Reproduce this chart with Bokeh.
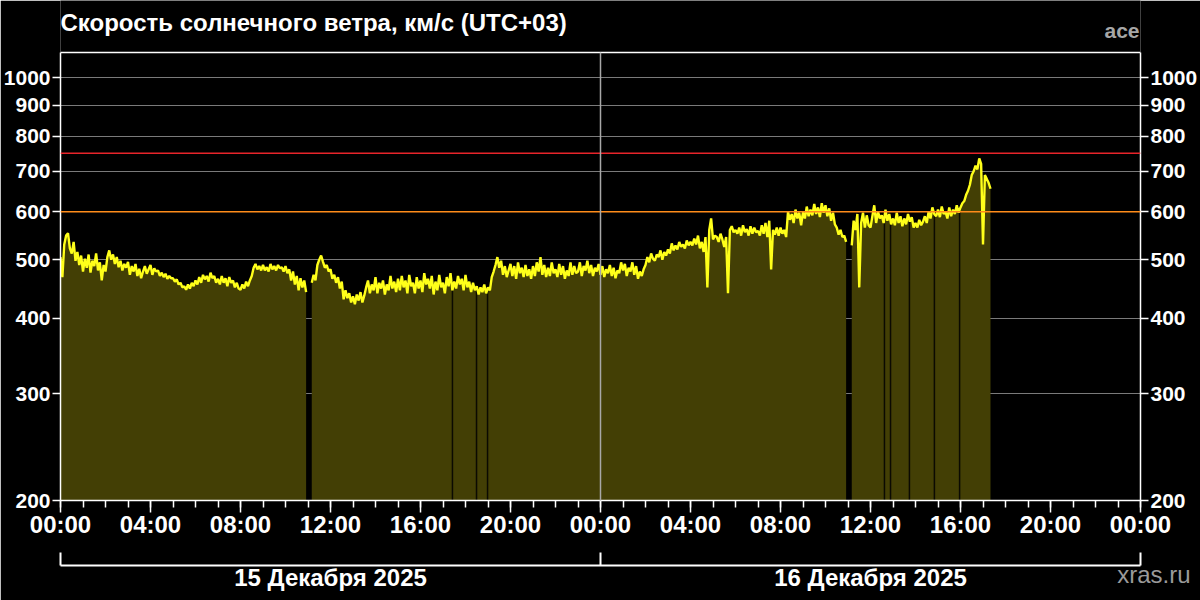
import math
from bokeh.plotting import figure
from bokeh.models import FixedTicker, LinearAxis, LogAxis, Span, Title
from bokeh.core.properties import value
from bokeh.embed import file_html
from bokeh.resources import INLINE

NaN = float("nan")

title_text = "Скорость солнечного ветра, км/с (UTC+03)"
source_name = "ace"
site_name = "xras.ru"

# solar wind speed, km/s, one reading every 5 minutes from 15 Dec 00:00 (UTC+03)
step_hours = 5.0 / 60.0
speed = [
    505, 468, 530, 548, 553, 522, 512, 535, 498, 515, 490, 508,   # 00
    478, 502, 485, 510, 476, 498, 488, 512, 480, 495, 462, 490,   # 01
    478, 505, 518, 500, 510, 492, 505, 486, 498, 480, 492, 485,   # 02
    496, 472, 488, 478, 492, 470, 483, 466, 478, 488, 474, 482,   # 03
    490, 472, 484, 478, 480, 470, 476, 468, 474, 465, 470, 466,   # 04
    466, 460, 464, 455, 458, 450, 452, 446, 455, 448, 458, 452,   # 05
    462, 455, 468, 458, 472, 464, 470, 460, 476, 466, 470, 458,   # 06
    465, 455, 470, 458, 466, 452, 468, 458, 462, 450, 458, 448,   # 07
    446, 455, 448, 460, 452, 462, 470, 485, 492, 482, 488, 480,   # 08
    490, 480, 486, 478, 492, 482, 488, 480, 490, 484, 486, 478,   # 09
    488, 475, 482, 462, 478, 455, 470, 445, 466, 450, 462, 442,   # 10
    NaN, NaN, 458, 472, 462, 490, 500, 508, 496, 485, 490, 478,   # 11
    482, 465, 472, 458, 468, 448, 460, 430, 445, 432, 440, 425,   # 12
    435, 422, 438, 428, 442, 425, 436, 450, 462, 440, 455, 445,   # 13
    468, 440, 458, 448, 462, 438, 455, 445, 470, 448, 460, 442,   # 14
    465, 445, 470, 450, 462, 440, 472, 452, 458, 440, 468, 448,   # 15
    462, 442, 475, 455, 465, 448, 470, 438, 460, 445, 472, 450,   # 16
    458, 440, 468, 452, 475, 445, 460, 448, 470, 455, 465, 445,   # 17
    472, 450, 460, 442, 458, 445, 452, 438, 450, 442, 455, 440,   # 18
    450, 445, 468, 478, 490, 505, 485, 498, 472, 488, 468, 480,   # 19
    492, 470, 488, 465, 495, 475, 485, 468, 490, 470, 482, 465,   # 20
    488, 470, 495, 478, 505, 472, 490, 468, 485, 470, 495, 475,   # 21
    482, 468, 492, 472, 488, 465, 480, 470, 495, 472, 488, 475,   # 22
    478, 495, 470, 488, 480, 498, 475, 490, 470, 485, 478, 492,   # 23
    472, 488, 468, 482, 475, 490, 470, 485, 466, 480, 475, 495,   # 00 (16 Dec)
    480, 492, 470, 485, 478, 495, 472, 488, 465, 478, 470, 482,   # 01
    490, 505, 495, 512, 502, 498, 510, 505, 518, 500, 515, 508,   # 02
    520, 512, 532, 518, 528, 520, 535, 525, 530, 522, 538, 528,   # 03
    535, 528, 542, 530, 548, 522, 535, 515, 545, 450, 560, 585,   # 04
    540, 548, 545, 535, 552, 540, 525, 545, 440, 560, 568, 555,   # 05
    560, 552, 565, 548, 570, 555, 562, 548, 568, 552, 565, 555,   # 06
    558, 548, 570, 552, 575, 545, 580, 482, 560, 550, 565, 548,   # 07
    565, 552, 560, 545, 600, 582, 595, 575, 605, 585, 598, 570,   # 08
    600, 585, 612, 590, 605, 592, 618, 595, 610, 588, 620, 598,   # 09
    615, 590, 608, 580, 598, 572, 565, 550, 560, 545, 548, 535,   # 10
    NaN, NaN, 528, 580, 560, 595, 450, 575, 598, 565, 592, 570,   # 11
    565, 590, 615, 575, 600, 585, 592, 575, 605, 580, 595, 572,   # 12
    585, 570, 598, 575, 590, 568, 585, 572, 595, 578, 588, 565,   # 13
    575, 565, 582, 570, 578, 590, 575, 600, 585, 610, 595, 590,   # 14
    605, 588, 612, 595, 600, 585, 610, 590, 605, 595, 615, 598,   # 15
    610, 620, 625, 640, 650, 665, 690, 700, 715, 705, 735, 720,   # 16
    530, 690, 680, 670, 655,                                      # 17:00-17:20
]
# short data dropouts (hours from 15 Dec 00:00)
gap_hours = [17.42, 18.49, 18.98, 36.62, 36.89, 37.73, 38.84, 39.96]

x_tick_hours = [0, 4, 8, 12, 16, 20, 24, 28, 32, 36, 40, 44, 48]
x_tick_labels = ["00:00", "04:00", "08:00", "12:00", "16:00", "20:00", "00:00",
                 "04:00", "08:00", "12:00", "16:00", "20:00", "00:00"]
minor_hours = list(range(0, 49))
y_ticks = [200, 300, 400, 500, 600, 700, 800, 900, 1000]
y_tick_labels = ["200", "300", "400", "500", "600", "700", "800", "900", "1000"]
day_bounds = [0, 24, 48]
day_centers = [12, 36]
day_labels = ["15 Декабря 2025", "16 Декабря 2025"]
threshold_orange = 600
threshold_red = 750
y_min, y_max = 200, 1100
x_min, x_max = 0, 48

FONT = "Liberation Sans"
FILL = "#433f05"

# layout (pixels)
W, H = 1200, 600
SIDE = 60
HEAD = 52                 # space above the chart box kept for title texts
BOX_H = 448               # chart box height
BOTTOM = H - HEAD - BOX_H
px_per_decade = BOX_H / math.log10(y_max / y_min)
y_top = y_max * 10 ** (HEAD / px_per_decade)


def y_at(px_from_top):
    return y_top / 10 ** (px_from_top / px_per_decade)


times = [i * step_hours for i in range(len(speed))]

p = figure(width=W, height=H, y_axis_type="log",
           x_range=(x_min, x_max), y_range=(y_min, y_top),
           output_backend="svg", toolbar_location=None,
           x_axis_location=None, y_axis_location=None,
           min_border_left=SIDE, min_border_right=SIDE,
           min_border_top=0, min_border_bottom=BOTTOM)
p.background_fill_color = "black"
p.border_fill_color = "black"
p.outline_line_color = None


def style_axis(ax, size):
    ax.axis_line_color = "white"
    ax.axis_line_width = 1.5
    ax.major_tick_line_color = "white"
    ax.minor_tick_line_color = "white"
    ax.major_tick_line_width = 1.5
    ax.minor_tick_line_width = 1.5
    ax.major_label_text_color = "white"
    ax.major_label_text_font = FONT
    ax.major_label_text_font_size = size
    ax.major_label_text_font_style = "bold"


xa = LinearAxis(ticker=FixedTicker(ticks=x_tick_hours, minor_ticks=minor_hours),
                major_label_overrides={h: l for h, l in zip(x_tick_hours, x_tick_labels)})
style_axis(xa, "24px")
xa.major_tick_in = 0
xa.major_tick_out = 12
xa.minor_tick_in = 0
xa.minor_tick_out = 7
xa.major_label_standoff = -2
xa.axis_label = "\u00a0"
xa.axis_label_text_font_size = "16px"
xa.axis_label_standoff = 5
p.add_layout(xa, "below")

da = LinearAxis(ticker=FixedTicker(ticks=day_centers, minor_ticks=day_bounds),
                major_label_overrides={c: l for c, l in zip(day_centers, day_labels)})
style_axis(da, "24px")
da.axis_line_width = 2
da.minor_tick_line_width = 2
da.major_tick_in = 0
da.major_tick_out = 0
da.minor_tick_in = 13
da.minor_tick_out = 0
da.major_label_standoff = -2
p.add_layout(da, "below")

p.add_layout(Title(text=site_name, align="right", offset=-50, vertical_align="top",
                   text_color="#9a9a9a", text_font=FONT, text_font_size="24px",
                   text_font_style="normal", standoff=-66), "below")

for side in ("left", "right"):
    ya = LogAxis(ticker=FixedTicker(ticks=y_ticks, minor_ticks=[]),
                 major_label_overrides={v: l for v, l in zip(y_ticks, y_tick_labels)},
                 bounds=(y_min, y_max))
    style_axis(ya, "21px")
    ya.major_tick_in = 0
    ya.major_tick_out = 8
    ya.major_label_standoff = 2
    p.add_layout(ya, side)

p.xgrid.visible = False
p.ygrid.ticker = FixedTicker(ticks=y_ticks)
p.ygrid.grid_line_color = "#7a7a7a"
p.ygrid.grid_line_width = 1.2

# filled area per contiguous run of readings
runs, run_x, run_y = [], [], []
for t, v in zip(times, speed):
    if math.isnan(v):
        if run_x:
            runs.append((run_x, run_y))
        run_x, run_y = [], []
    else:
        run_x.append(t)
        run_y.append(v)
if run_x:
    runs.append((run_x, run_y))
for rx, ry in runs:
    p.varea(x=rx, y1=[y_min] * len(rx), y2=ry, fill_color=FILL)

# short dropouts
gap_tops = [speed[min(len(speed) - 1, round(h / step_hours))] for h in gap_hours]
p.segment(x0=gap_hours, y0=[y_min] * len(gap_hours), x1=gap_hours, y1=gap_tops,
          line_color="#0b0a02", line_width=1.5)

p.add_layout(Span(location=threshold_orange, dimension="width",
                  line_color="#ff8c1a", line_width=1.5))
p.add_layout(Span(location=threshold_red, dimension="width",
                  line_color="#e8242a", line_width=1.5))
# day boundary and top edge of the chart box
p.segment(x0=[day_bounds[1]], y0=[y_min], x1=[day_bounds[1]], y1=[y_max],
          line_color="#a8a8a8", line_width=1.5, level="overlay")
p.add_layout(Span(location=y_max, dimension="width", line_color="white",
                  line_width=1.5))

p.line(times, speed, line_color="#ffff1a", line_width=2.4)

# title and data source texts above the chart box
p.text(x=[x_min], y=[y_at(22)], text=[title_text], text_align="left",
       text_baseline="alphabetic", text_color="white", text_font=value(FONT),
       text_font_size="24px", text_font_style="bold")
p.text(x=[x_max], y=[y_at(30)], text=[source_name], text_align="right",
       text_baseline="alphabetic", x_offset=-1, text_color="#a6a6a6",
       text_font=value(FONT), text_font_size="21px", text_font_style="bold")

open("out.html", "w").write(file_html(p, INLINE))
